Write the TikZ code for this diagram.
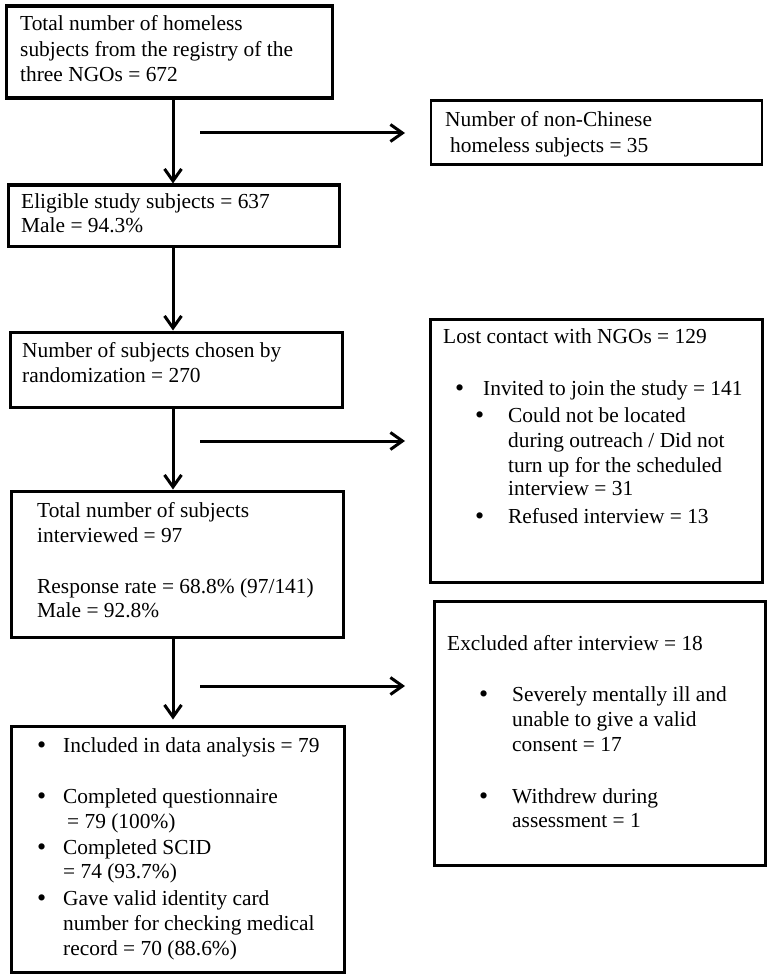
\documentclass[tikz,border=0pt]{standalone}
\usepackage{fontspec}
\setmainfont{Liberation Serif}
\usetikzlibrary{arrows.meta}
\begin{document}
\begin{tikzpicture}[x=1pt,y=-1pt,
  box/.style={draw, line width=3.2pt, inner sep=0pt, anchor=north west},
  tx/.style={anchor=base west, inner sep=0pt, font=\fontsize{21.4}{25}\selectfont},
  bul/.style={anchor=base west, inner sep=0pt, font=\fontsize{26}{25}\selectfont, yshift=-1.5pt},
  flow/.style={line width=3pt, -{Straight Barb[length=12pt,width=17pt]}}
]
\useasboundingbox (0,0) rectangle (769,976);
% boxes
\node[box, minimum width=326pt, minimum height=92pt]  (b1) at (4.5,4.5) {};
\node[box, minimum width=331pt, minimum height=61pt]  (b2) at (6.5,183.5) {};
\node[box, minimum width=332pt, minimum height=75pt]  (b3) at (8.5,330.5) {};
\node[box, minimum width=332pt, minimum height=146pt] (b4) at (9.5,489.5) {};
\node[box, minimum width=333pt, minimum height=246pt] (b5) at (9.5,724.5) {};
\node[box, line width=2.8pt, minimum width=331pt, minimum height=64pt] (nc) at (429.5,99.5) {};
\node[box, minimum width=332pt, minimum height=263pt] (lc) at (428.5,317.5) {};
\node[box, minimum width=331pt, minimum height=264pt] (ex) at (432.5,599.5) {};
% vertical flow
\coordinate (vx) at (173,0);
\draw[flow] (b1.south -| vx) -- (b2.north -| vx);
\draw[flow] (b2.south -| vx) -- (b3.north -| vx);
\draw[flow] (b3.south -| vx) -- (b4.north -| vx);
\draw[flow, shorten >=5pt] (b4.south -| vx) -- (b5.north -| vx);
% side arrows
\coordinate (h1s) at (200,133); \coordinate (h1e) at (405,133);
\coordinate (h2s) at (200,441); \coordinate (h2e) at (405,441);
\coordinate (h3s) at (200,686); \coordinate (h3e) at (405,686);
\draw[flow] (h1s) -- (h1e);
\draw[flow] (h2s) -- (h2e);
\draw[flow] (h3s) -- (h3e);
% texts box 1
\node[tx] (t1a) at (20,31) {Total number of homeless};
\node[tx] (t1b) at (20,57) {subjects from the registry of the};
\node[tx] (t1c) at (20,82) {three NGOs = 672};
% non-Chinese
\node[tx] (tna) at (445,127) {Number of non-Chinese};
\node[tx] (tnb) at (450,153) {homeless subjects = 35};
% box 2
\node[tx] (t2a) at (21,209) {Eligible study subjects = 637};
\node[tx] (t2b) at (21,233) {Male = 94.3\%};
% box 3
\node[tx] (t3a) at (22,357) {Number of subjects chosen by};
\node[tx] (t3b) at (22,382) {randomization = 270};
% lost contact
\node[tx] (tla) at (443,343) {Lost contact with NGOs = 129};
\node[bul] (blb) at (455,395) {•};
\node[tx] (tlb) at (483,395) {Invited to join the study = 141};
\node[bul] (blc) at (475,422) {•};
\node[tx] (tlc) at (508,422) {Could not be located};
\node[tx] (tld) at (508,447) {during outreach / Did not};
\node[tx] (tle) at (508,472) {turn up for the scheduled};
\node[tx] (tlf) at (508,495) {interview = 31};
\node[bul] (blg) at (475,523) {•};
\node[tx] (tlg) at (508,523) {Refused interview = 13};
% box 4
\node[tx] (t4a) at (37,517) {Total number of subjects};
\node[tx] (t4b) at (37,542) {interviewed = 97};
\node[tx] (t4c) at (37,593) {Response rate = 68.8\% (97/141)};
\node[tx] (t4d) at (37,617) {Male = 92.8\%};
% excluded
\node[tx] (tea) at (447,650) {Excluded after interview = 18};
\node[bul] (beb) at (479,701) {•};
\node[tx] (teb) at (512,701) {Severely mentally ill and};
\node[tx] (tec) at (512,726) {unable to give a valid};
\node[tx] (ted) at (512,751) {consent = 17};
\node[bul] (bee) at (479,803) {•};
\node[tx] (tee) at (512,803) {Withdrew during};
\node[tx] (tef) at (512,827) {assessment = 1};
% box 5
\node[bul] (b5a) at (37,752) {•};
\node[tx] (t5a) at (63,752) {Included in data analysis = 79};
\node[bul] (b5b) at (37,803) {•};
\node[tx] (t5b) at (63,803) {Completed questionnaire};
\node[tx] (t5c) at (67,828) {= 79 (100\%)};
\node[bul] (b5d) at (37,854) {•};
\node[tx] (t5d) at (63,854) {Completed SCID};
\node[tx] (t5e) at (63,878) {= 74 (93.7\%)};
\node[bul] (b5f) at (37,905) {•};
\node[tx] (t5f) at (63,905) {Gave valid identity card};
\node[tx] (t5g) at (63,930) {number for checking medical};
\node[tx] (t5h) at (63,955) {record = 70 (88.6\%)};
\end{tikzpicture}
\end{document}
